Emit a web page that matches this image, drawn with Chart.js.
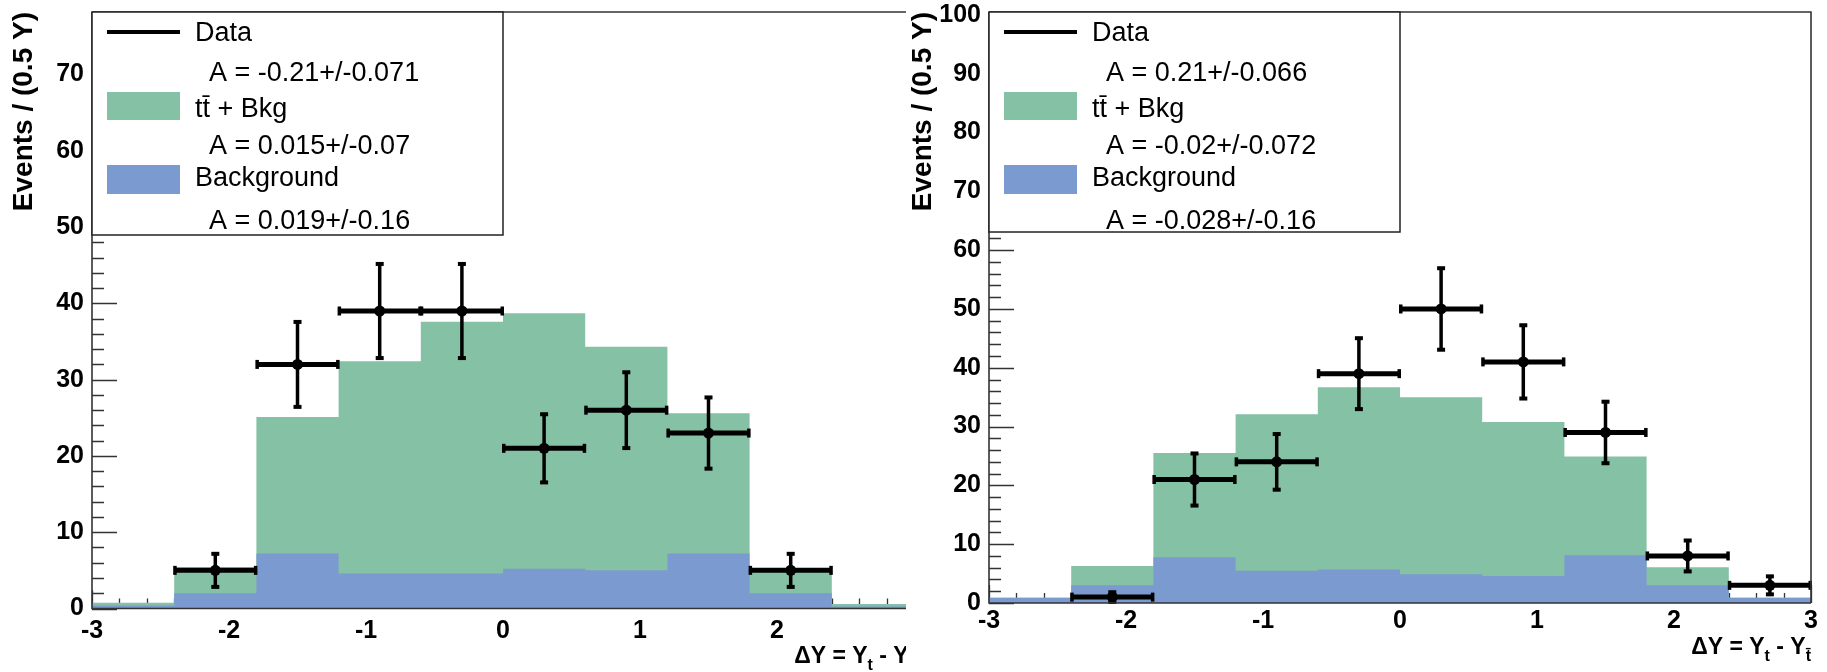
<!DOCTYPE html>
<html>
<head>
<meta charset="utf-8">
<script src="https://cdn.jsdelivr.net/npm/chart.js@4.4.1/dist/chart.umd.min.js"></script>
<style>
html, body { margin: 0; padding: 0; background: #fff; }
#wrap { position: relative; width: 1827px; height: 672px; overflow: hidden; }
.panel { position: absolute; top: 0; height: 672px; overflow: hidden; }
</style>
</head>
<body>
<div id="wrap">
  <div class="panel" style="left:0;width:906px"><canvas id="left" width="930" height="672"></canvas></div>
  <div class="panel" style="left:906px;width:921px"><canvas id="right" width="921" height="672"></canvas></div>
</div>
<script>
// bins of the Delta Y histograms
const binEdges = [-3, -2.4, -1.8, -1.2, -0.6, 0, 0.6, 1.2, 1.8, 2.4, 3]
const binCenters = [-2.7, -2.1, -1.5, -0.9, -0.3, 0.3, 0.9, 1.5, 2.1, 2.7]
const xTickValues = [-3, -2, -1, 0, 1, 2, 3]

// left panel
const leftTotal = [0.75, 5.4, 25.1, 32.4, 37.6, 38.7, 34.3, 25.6, 5.3, 0.6]
const leftBkg = [0.4, 2.0, 7.2, 4.6, 4.6, 5.2, 5.0, 7.2, 2.0, 0.25]
const leftData = [null, 5, 32, 39, 39, 21, 26, 23, 5, null]
const leftErr = [null, 2.3, 5.7, 6.3, 6.3, 4.6, 5.1, 4.8, 2.3, null]
const leftYTicks = [0, 10, 20, 30, 40, 50, 60, 70]
const leftAsym = ['A = -0.21+/-0.071', 'A = 0.015+/-0.07', 'A = 0.019+/-0.16']

// right panel
const rightTotal = [0.9, 6.3, 25.5, 32.1, 36.7, 35.0, 30.8, 24.9, 6.1, 0.9]
const rightBkg = [0.9, 3.0, 7.8, 5.5, 5.7, 4.9, 4.6, 8.1, 3.0, 0.9]
const rightData = [null, 1, 21, 24, 39, 50, 41, 29, 8, 3]
const rightErr = [null, 1.0, 4.6, 4.9, 6.2, 7.1, 6.4, 5.4, 2.8, 1.7]
const rightYTicks = [0, 10, 20, 30, 40, 50, 60, 70, 80, 90, 100]
const rightAsym = ['A = 0.21+/-0.066', 'A = -0.02+/-0.072', 'A = -0.028+/-0.16']

const legendNames = ['Data', 'tt\u0304 + Bkg', 'Background']
const GREEN = '#85c1a5'
const BLUE = '#7b9ad0'
const AXIS = '#333'
const FONT = '"Liberation Sans", Arial, sans-serif'

function stepPoints(vals) {
    return binEdges.map((e, i) => ({x: e, y: vals[Math.min(i, vals.length - 1)]}))
}

// ROOT style axes, error bars, legend box and x title
const rootStyle = {
    id: 'rootStyle',
    beforeDatasetsDraw(chart, args, o) {
        const {ctx, chartArea: a, scales} = chart
        const xs = scales.x, ys = scales.y
        ctx.save()
        ctx.strokeStyle = AXIS
        ctx.lineWidth = 1.3
        ctx.beginPath()
        for (let v = 0; v <= ys.max + 0.001; v += 2) {
            const y = Math.round(ys.getPixelForValue(v)) + 0.5
            const len = v % 10 === 0 ? 25 : 12
            ctx.moveTo(a.left, y); ctx.lineTo(a.left + len, y)
        }
        for (let k = -15; k <= 15; k++) {
            const x = Math.round(xs.getPixelForValue(k / 5)) + 0.5
            const len = k % 5 === 0 ? 18 : 10
            ctx.moveTo(x, a.bottom); ctx.lineTo(x, a.bottom - len)
        }
        ctx.stroke()
        ctx.restore()
    },
    beforeDatasetDraw(chart, args, o) {
        if (args.index !== 0) return
        const {ctx} = chart
        const xs = chart.scales.x, ys = chart.scales.y
        ctx.save()
        ctx.fillStyle = '#000'
        ctx.strokeStyle = '#000'
        o.values.forEach((v, i) => {
            if (v === null) return
            const x0 = xs.getPixelForValue(binEdges[i])
            const x1 = xs.getPixelForValue(binEdges[i + 1])
            const xc = xs.getPixelForValue(binCenters[i])
            const y = ys.getPixelForValue(v)
            const yt = ys.getPixelForValue(v + o.errors[i])
            const yb = ys.getPixelForValue(Math.max(0, v - o.errors[i]))
            ctx.lineWidth = 5
            ctx.beginPath(); ctx.moveTo(x0, y); ctx.lineTo(x1, y); ctx.stroke()
            ctx.fillRect(x0 - 1, y - 4.5, 3.5, 9)
            ctx.fillRect(x1 - 2.5, y - 4.5, 3.5, 9)
            ctx.lineWidth = 3.5
            ctx.beginPath(); ctx.moveTo(xc, yt); ctx.lineTo(xc, yb); ctx.stroke()
            ctx.fillRect(xc - 4, yt - 1, 8, 4)
            ctx.fillRect(xc - 4, yb - 3, 8, 4)
        })
        ctx.restore()
    },
    afterDatasetsDraw(chart, args, o) {
        const {ctx, chartArea: a} = chart
        ctx.save()
        ctx.strokeStyle = AXIS
        ctx.lineWidth = 1.6
        ctx.beginPath()
        ctx.moveTo(a.left, a.top); ctx.lineTo(a.left, a.bottom); ctx.lineTo(a.right, a.bottom)
        ctx.moveTo(a.left, a.top); ctx.lineTo(a.right, a.top); ctx.lineTo(a.right, a.bottom)
        ctx.stroke()
        ctx.restore()
    },
    afterDraw(chart, args, o) {
        const {ctx, chartArea: a} = chart
        ctx.save()
        // legend box
        const L = a.left, T = a.top
        ctx.fillStyle = '#fff'
        ctx.fillRect(L, T, 411, o.legendHeight)
        ctx.strokeStyle = '#222'
        ctx.lineWidth = 1.5
        ctx.strokeRect(L, T, 411, o.legendHeight)
        ctx.fillStyle = '#000'
        ctx.fillRect(L + 15, T + 18, 73, 4)
        ctx.fillStyle = GREEN
        ctx.fillRect(L + 15, T + 80, 73, 28)
        ctx.fillStyle = BLUE
        ctx.fillRect(L + 15, T + 153, 73, 29)
        ctx.fillStyle = '#000'
        ctx.font = '27px ' + FONT
        ctx.textBaseline = 'middle'
        ctx.textAlign = 'left'
        const nameY = [22, 98, 167]
        const asymY = [62, 135, 210]
        legendNames.forEach((n, i) => ctx.fillText(n, L + 103, T + nameY[i]))
        o.asym.forEach((s, i) => ctx.fillText(s, L + 117, T + asymY[i]))

        // x axis title: Delta Y = Y_t - Y_tbar
        const big = 'bold 23px ' + FONT
        const small = 'bold 16px ' + FONT
        const parts = [['\u0394Y = Y', big, 0], ['t', small, 7], [' - Y', big, 0], ['t\u0304', small, 7]]
        let w = 0
        parts.forEach(p => { ctx.font = p[1]; w += ctx.measureText(p[0]).width })
        let x = a.right - w
        const base = a.bottom + o.titleOffset
        ctx.textBaseline = 'alphabetic'
        parts.forEach(p => {
            ctx.font = p[1]
            ctx.fillText(p[0], x, base + p[2])
            x += ctx.measureText(p[0]).width
        })
        ctx.restore()
    }
}

function makeChart(id, total, bkg, data, errs, yMax, yTicks, asym, geo) {
    const pts = binCenters.map((x, i) => ({x: x, y: data[i]})).filter(p => p.y !== null)
    return new Chart(document.getElementById(id), {
        type: 'line',
        data: {
            datasets: [
                {label: 'Data', data: pts, showLine: false, pointRadius: 5.5, pointHoverRadius: 5.5,
                 pointBackgroundColor: '#000', pointBorderColor: '#000', borderWidth: 0, order: 0},
                {label: 'Background', data: stepPoints(bkg), stepped: 'before', fill: 'origin',
                 backgroundColor: BLUE, borderColor: BLUE, borderWidth: 0, pointRadius: 0, order: 1},
                {label: 'tt + Bkg', data: stepPoints(total), stepped: 'before', fill: 'origin',
                 backgroundColor: GREEN, borderColor: GREEN, borderWidth: 0, pointRadius: 0, order: 2}
            ]
        },
        options: {
            responsive: false,
            animation: false,
            devicePixelRatio: 1,
            events: [],
            layout: {padding: {top: 12, right: geo.padRight, left: 0, bottom: 0}},
            plugins: {
                legend: {display: false},
                tooltip: {enabled: false},
                rootStyle: {values: data, errors: errs, asym: asym, legendHeight: geo.legendHeight, titleOffset: geo.titleOffset}
            },
            scales: {
                x: {
                    type: 'linear', min: -3, max: 3,
                    grid: {display: false, drawTicks: false}, border: {display: false},
                    afterBuildTicks: s => { s.ticks = xTickValues.map(v => ({value: v})) },
                    afterFit: s => { s.height = geo.xHeight; s.paddingLeft = 0; s.paddingRight = 0 },
                    ticks: {color: '#000', padding: geo.xPad, maxRotation: 0, autoSkip: false,
                            font: {family: FONT, size: 25, weight: 'bold'}}
                },
                y: {
                    type: 'linear', min: 0, max: yMax,
                    grid: {display: false, drawTicks: false}, border: {display: false},
                    afterBuildTicks: s => { s.ticks = yTicks.map(v => ({value: v})) },
                    afterFit: s => { s.width = geo.yWidth; s.paddingTop = 0; s.paddingBottom = 0 },
                    ticks: {color: '#000', padding: 8,
                            font: {family: FONT, size: 25, weight: 'bold'}},
                    title: {display: true, text: 'Events / (0.5 Y)', align: 'end', color: '#000',
                            padding: {top: geo.titlePad, bottom: 0},
                            font: {family: FONT, size: 28, weight: 'bold'}}
                }
            }
        },
        plugins: [rootStyle]
    })
}

makeChart('left', leftTotal, leftBkg, leftData, leftErr, 78.2, leftYTicks, leftAsym,
    {padRight: 16, yWidth: 92, xHeight: 63.5, xPad: 8, legendHeight: 223, titleOffset: 54, titlePad: 7})
makeChart('right', rightTotal, rightBkg, rightData, rightErr, 100.5, rightYTicks, rightAsym,
    {padRight: 16, yWidth: 83, xHeight: 69, xPad: 3, legendHeight: 220, titleOffset: 51, titlePad: 0})
</script>
</body>
</html>
